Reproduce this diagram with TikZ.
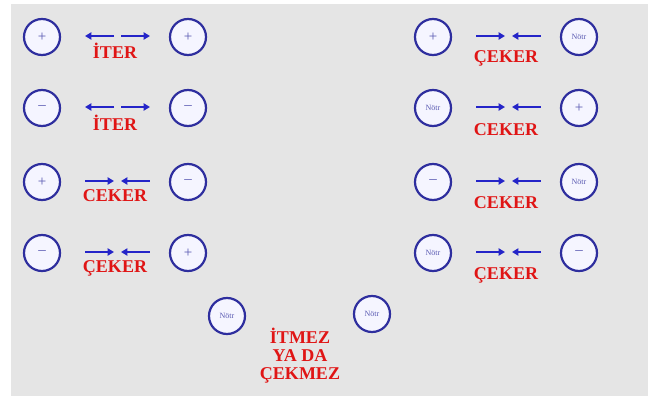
\documentclass[tikz,border=0pt]{standalone}
\usepackage{fontspec}
\setmainfont{Liberation Serif}
\usetikzlibrary{arrows.meta}
\definecolor{zemin}{HTML}{E5E5E5}
\definecolor{cember}{HTML}{2E2E9E}
\definecolor{okmavi}{HTML}{2424C8}
\definecolor{yazikirmizi}{HTML}{E01515}
\newcommand\notr{{\fontsize{4}{4}\selectfont Nötr}}
\tikzset{
  yuk/.style={circle, draw=cember, line width=1.1pt, fill=blue!4, minimum size=18pt, inner sep=0pt,
    text=cember!80, font=\fontsize{7.5}{7.5}\selectfont},
  etiket/.style={text=yazikirmizi, font=\fontsize{9}{9}\selectfont\bfseries, align=center},
  ok/.style={draw=okmavi, line width=1.3pt, >={Triangle[length=3.2pt,width=3.6pt]}},
  iter/.style={->},
  ceker/.style={<-}
}
\begin{document}
\begin{tikzpicture}[x=0.5pt,y=-0.5pt]
\useasboundingbox (0,0) rectangle (654,396);
\fill[zemin] (11,4) rectangle (648,396);
\foreach \x/\y/\a/\b/\yon/\yazi/\dy in {
  0/37/+/+/iter/İTER/14, 0/108/–/–/iter/İTER/15,
  0/182/+/–/ceker/CEKER/14, 0/253/–/+/ceker/ÇEKER/15,
  391/37/+/\notr/ceker/ÇEKER/21, 391/108/\notr/+/ceker/CEKER/22,
  391/182/–/\notr/ceker/CEKER/21, 391/253/\notr/–/ceker/ÇEKER/22} {
  \node[yuk] (sol) at ({42+\x},\y) {\a};
  \node[yuk] (sag) at ({188+\x},\y) {\b};
  \coordinate (o1) at ({85+\x},\y-1);
  \coordinate (o2) at ({114+\x},\y-1);
  \coordinate (o3) at ({121+\x},\y-1);
  \coordinate (o4) at ({150+\x},\y-1);
  \draw[ok,\yon] (o2) -- (o1);
  \draw[ok,\yon] (o3) -- (o4);
  \node[etiket] (kuvvet) at ({115+\x},\y+\dy) {\yazi};
}
% ortadaki notr cift
\node[yuk] (notr1) at (227,316) {\notr};
\node[yuk] (notr2) at (372,314) {\notr};
\node[etiket] (sonuc) at (300,356) {İTMEZ\\YA DA\\ÇEKMEZ};
\end{tikzpicture}
\end{document}
